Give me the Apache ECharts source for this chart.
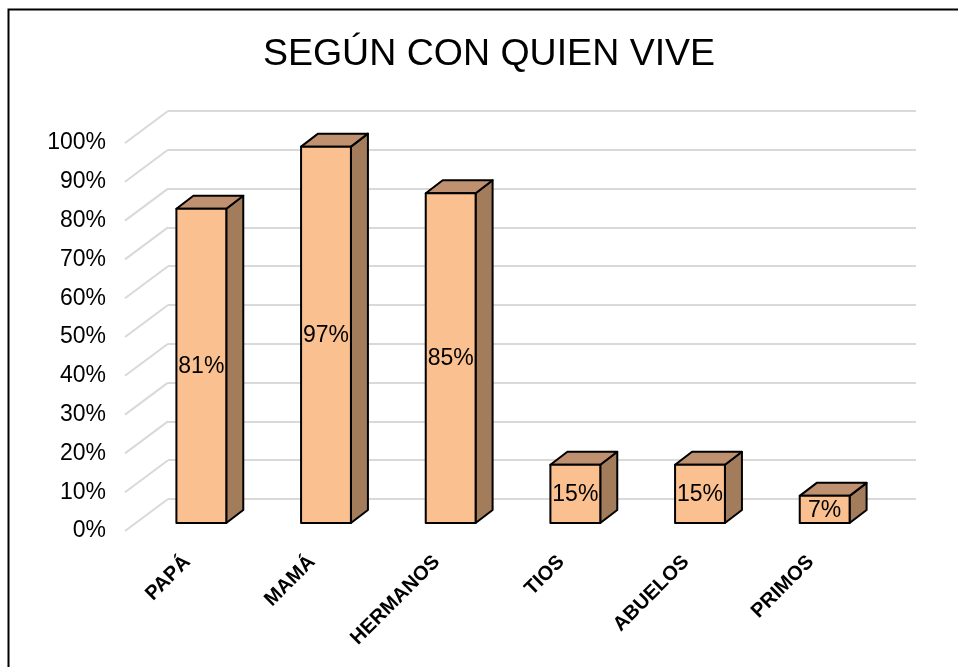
<!DOCTYPE html>
<html>
<head>
<meta charset="utf-8">
<script src="https://cdn.jsdelivr.net/npm/echarts@6/dist/echarts.min.js"></script>
<style>
  html, body { margin: 0; padding: 0; background: #fff; }
  #myCharts { width: 958px; height: 667px; }
</style>
</head>
<body>
<div id="myCharts"></div>
<script>
  const categories = ['PAPÁ', 'MAMÁ', 'HERMANOS', 'TIOS', 'ABUELOS', 'PRIMOS'];
  const values = [81, 97, 85, 15, 15, 7];
  const yTicks = [0, 10, 20, 30, 40, 50, 60, 70, 80, 90, 100];

  // depth of the floor (front plane -> back wall) and of one bar, in px
  const FLOOR = [43, -32];
  const FACE = [14, -8];
  const DEPTH = [17, -13];
  const FONT = '"Liberation Sans", Arial, sans-serif';

  function renderDiag(params, api) {
    let y = api.coord([0, api.value(1)])[1];
    let x = params.coordSys.x;
    return {
      type: 'line',
      shape: { x1: x, y1: y, x2: x + FLOOR[0], y2: y + FLOOR[1] },
      style: { stroke: '#d9d9d9', lineWidth: 2 }
    };
  }

  function renderBar(params, api) {
    let i = api.value(0), v = api.value(1);
    let base = api.coord([i, 0]);
    let top = api.coord([i, v]);
    let w = api.size([1, 0])[0] * 0.4;
    let xl = base[0] + FACE[0] - w / 2, xr = xl + w;
    let yb = base[1] + FACE[1], yt = top[1] + FACE[1];
    let dx = DEPTH[0], dy = DEPTH[1];
    let line = { stroke: '#000', lineWidth: 2, lineJoin: 'round' };
    return {
      type: 'group',
      children: [
        { type: 'polygon', shape: { points: [[xr, yt], [xr + dx, yt + dy], [xr + dx, yb + dy], [xr, yb]] },
          style: Object.assign({ fill: '#a27c5b' }, line) },
        { type: 'polygon', shape: { points: [[xl, yt], [xr, yt], [xr + dx, yt + dy], [xl + dx, yt + dy]] },
          style: Object.assign({ fill: '#bf9170' }, line) },
        { type: 'rect', shape: { x: xl, y: yt, width: w, height: yb - yt },
          style: Object.assign({ fill: '#fac090' }, line) },
        { type: 'text', style: { text: v + '%', x: (xl + xr) / 2, y: (yb + yt) / 2 + 1,
          align: 'center', verticalAlign: 'middle', fontSize: 23, fontFamily: FONT, fill: '#000' } }
      ]
    };
  }

  let mychart = echarts.init(document.getElementById('myCharts'));
  let option = {
    animation: false,
    backgroundColor: '#fff',
    title: {
      text: 'SEGÚN CON QUIEN VIVE',
      left: 484,
      top: 31,
      textAlign: 'center',
      textStyle: { fontSize: 37.5, fontWeight: 'normal', color: '#000', fontFamily: FONT }
    },
    graphic: [{
      type: 'rect', left: 6, top: 7, z: 100,
      shape: { width: 1000, height: 700 },
      style: { fill: 'none', stroke: '#000', lineWidth: 2 }
    }],
    grid: [
      { left: 168, right: 42, top: 111, bottom: 168 },
      { left: 125, right: 85, top: 143, bottom: 136 }
    ],
    xAxis: [
      { gridIndex: 0, type: 'category', data: categories, show: false },
      {
        gridIndex: 1, type: 'category', data: categories,
        axisLine: { show: false }, axisTick: { show: false },
        axisLabel: { rotate: 45, margin: 28, interval: 0, color: '#000',
          fontSize: 20, fontWeight: 'bold', fontFamily: FONT }
      }
    ],
    yAxis: [
      {
        gridIndex: 0, type: 'value', min: 0, max: 100, interval: 10,
        axisLabel: { show: false }, axisLine: { show: false }, axisTick: { show: false },
        splitLine: { lineStyle: { color: '#d9d9d9', width: 2 } }
      },
      {
        gridIndex: 1, type: 'value', min: 0, max: 100, interval: 10,
        axisLine: { show: false }, axisTick: { show: false }, splitLine: { show: false },
        axisLabel: { formatter: '{value}%', margin: 19, padding: [4, 0, 0, 0], color: '#000', fontSize: 23, fontFamily: FONT }
      }
    ],
    series: [
      {
        type: 'custom', xAxisIndex: 1, yAxisIndex: 1, z: 1, silent: true,
        renderItem: renderDiag,
        data: yTicks.map(function (t) { return [0, t]; })
      },
      {
        type: 'custom', xAxisIndex: 1, yAxisIndex: 1, z: 2,
        renderItem: renderBar,
        data: values.map(function (v, i) { return [i, v]; })
      }
    ]
  };
  mychart.setOption(option);
  window.onresize = mychart.resize;
</script>
</body>
</html>
